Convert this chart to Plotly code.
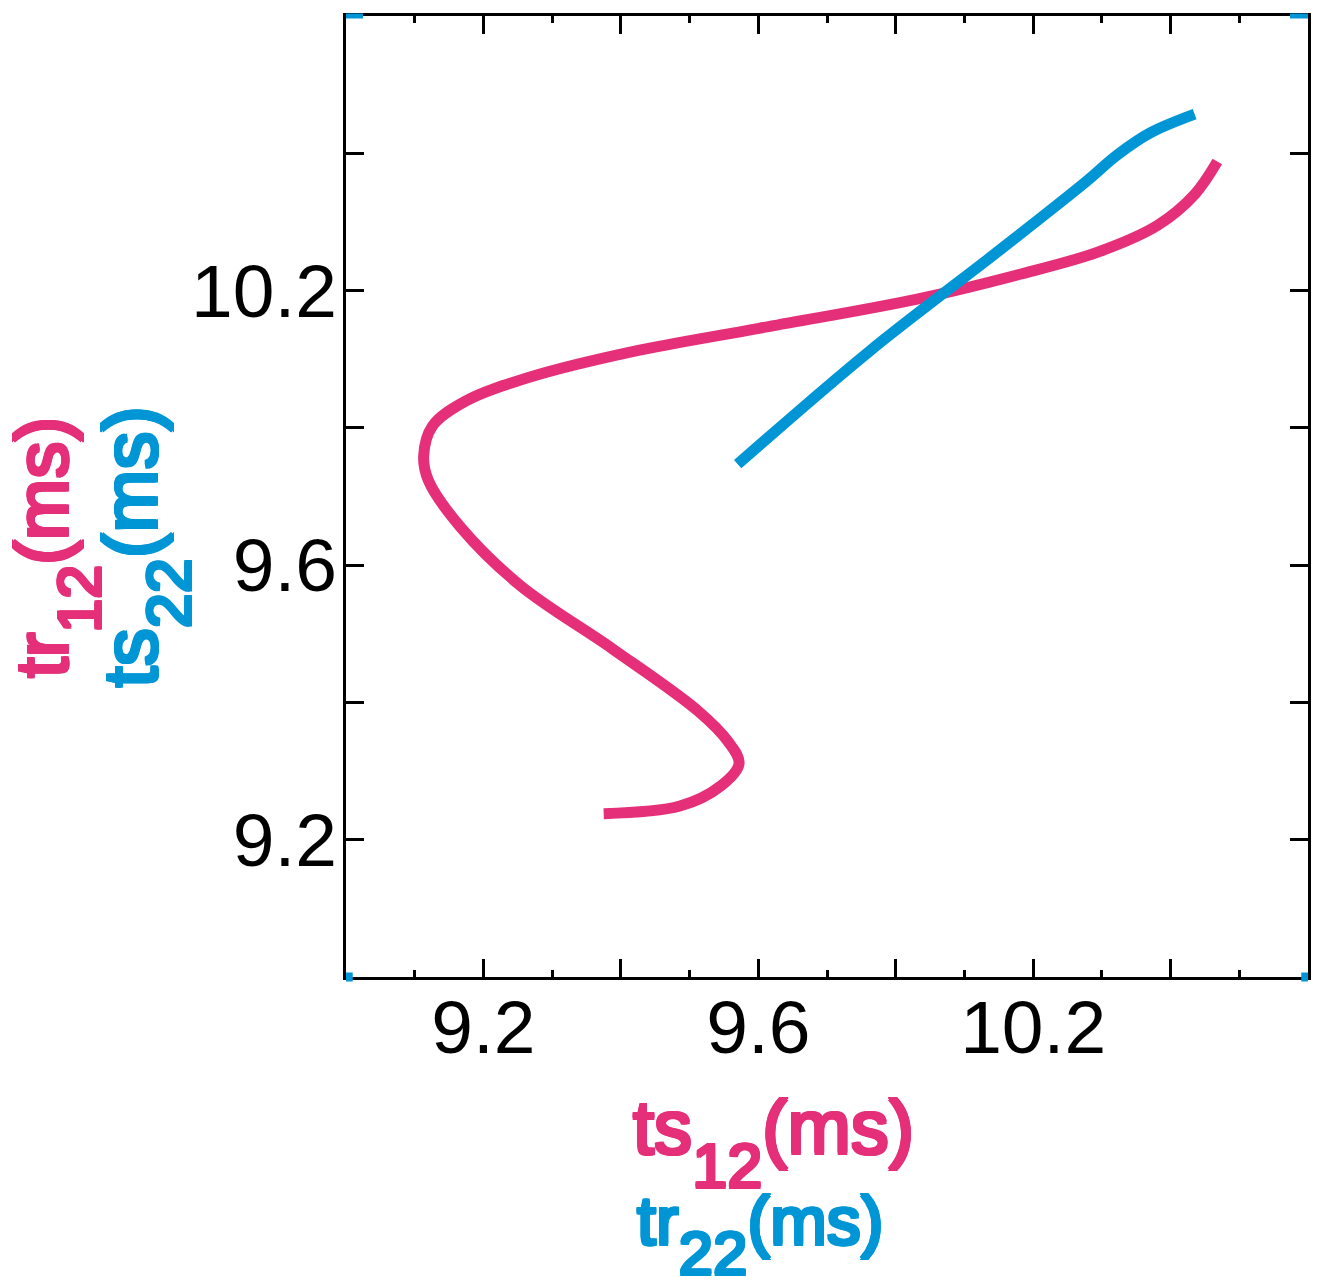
import plotly.graph_objects as go

# Pink series: ts12 (x) vs tr12 (y)
pink_x = [9.375, 9.486, 9.545, 9.572, 9.556, 9.513, 9.388, 9.254, 9.167, 9.120,
          9.113, 9.126, 9.174, 9.268, 9.417, 9.601, 9.833, 9.978, 10.094, 10.181,
          10.235, 10.268]
pink_y = [9.238, 9.249, 9.278, 9.311, 9.343, 9.387, 9.478, 9.570, 9.655, 9.723,
          9.759, 9.803, 9.839, 9.874, 9.911, 9.945, 9.988, 10.023, 10.056, 10.095,
          10.140, 10.188]

# Blue series: tr22 (x) vs ts22 (y)
blue_x = [9.570, 9.761, 9.954, 10.075, 10.123, 10.171, 10.235]
blue_y = [9.747, 9.911, 10.061, 10.157, 10.198, 10.230, 10.257]

major_vals = [9.2, 9.4, 9.6, 9.8, 10.0, 10.2]
major_text = ["9.2", "", "9.6", "", "10.2", ""]
minor_vals = [9.1, 9.3, 9.5, 9.7, 9.9, 10.1, 10.3]

PINK = "#E52F79"
BLUE = "#0096D6"

fig = go.Figure()
fig.add_trace(go.Scatter(x=pink_x, y=pink_y, mode="lines",
                         line=dict(color=PINK, width=11, shape="spline", smoothing=1.0),
                         showlegend=False))
fig.add_trace(go.Scatter(x=blue_x, y=blue_y, mode="lines",
                         line=dict(color=BLUE, width=11, shape="spline", smoothing=1.0),
                         showlegend=False))

font_ticks = dict(family="Liberation Sans, Arial, sans-serif", size=75, color="black")

# the page body adds an 8px offset; compensate so the plot lands where the reference has it
fig.update_layout(
    width=1312, height=1278,
    margin=dict(l=338, r=12, t=5, b=309),
    paper_bgcolor="white", plot_bgcolor="white",
    xaxis=dict(range=[9.0, 10.4], showgrid=False, zeroline=False,
               showline=True, linewidth=3, linecolor="black", mirror="ticks",
               ticks="inside", ticklen=18, tickwidth=3, tickcolor="black",
               tickmode="array", tickvals=major_vals, ticktext=major_text,
               tickfont=font_ticks, ticklabelstandoff=-17,
               minor=dict(ticks="inside", ticklen=7, tickwidth=3, tickcolor="black",
                          tickmode="array", tickvals=minor_vals, showgrid=False)),
    yaxis=dict(range=[9.0, 10.4], showgrid=False, zeroline=False,
               showline=True, linewidth=3, linecolor="black", mirror="ticks",
               ticks="inside", ticklen=18, tickwidth=3, tickcolor="black",
               tickmode="array", tickvals=major_vals, ticktext=major_text,
               tickfont=font_ticks, ticklabelstandoff=-9),
)


def thick(c, d=1.5):
    return ", ".join(f"{dx}px {dy}px 0 {c}" for dx, dy in
                     [(d, 0), (-d, 0), (0, d), (0, -d), (d, d), (-d, -d), (d, -d), (-d, d)])


def title(main, sub, subsize=63, shift=34):
    return (f"{main}<span style='font-size:{subsize}px;baseline-shift:-{shift}px'>{sub}</span>(ms)")


fam = "Liberation Sans, Arial, sans-serif"
ann = [
    dict(text=title("ts", "12"), x=0.4439, y=-0.172,
         font=dict(color=PINK, shadow=thick(PINK), family=fam, size=76), textangle=0),
    dict(text=title("tr", "22", 62, 30), x=0.4304, y=-0.268,
         font=dict(color=BLUE, shadow=thick(BLUE), family=fam, size=68), textangle=0),
    dict(text=title("tr", "12", 61, 33), x=-0.300, y=0.447,
         font=dict(color=PINK, shadow=thick(PINK), family=fam, size=74), textangle=-90),
    dict(text=title("ts", "22"), x=-0.208, y=0.448,
         font=dict(color=BLUE, shadow=thick(BLUE), family=fam, size=76), textangle=-90),
]
for a in ann:
    fig.add_annotation(xref="paper", yref="paper", showarrow=False,
                       xanchor="center", yanchor="middle", **a)

# small blue corner marks
for x0, x1, y0, w in [(0, 0.0177, 1, 5), (0.9813, 1, 1, 5), (0, 0.007, 0, 9), (0.993, 1, 0, 9)]:
    fig.add_shape(type="line", xref="paper", yref="paper", x0=x0, x1=x1, y0=y0, y1=y0,
                  line=dict(color=BLUE, width=w), layer="above")

fig.write_html("out.html")
